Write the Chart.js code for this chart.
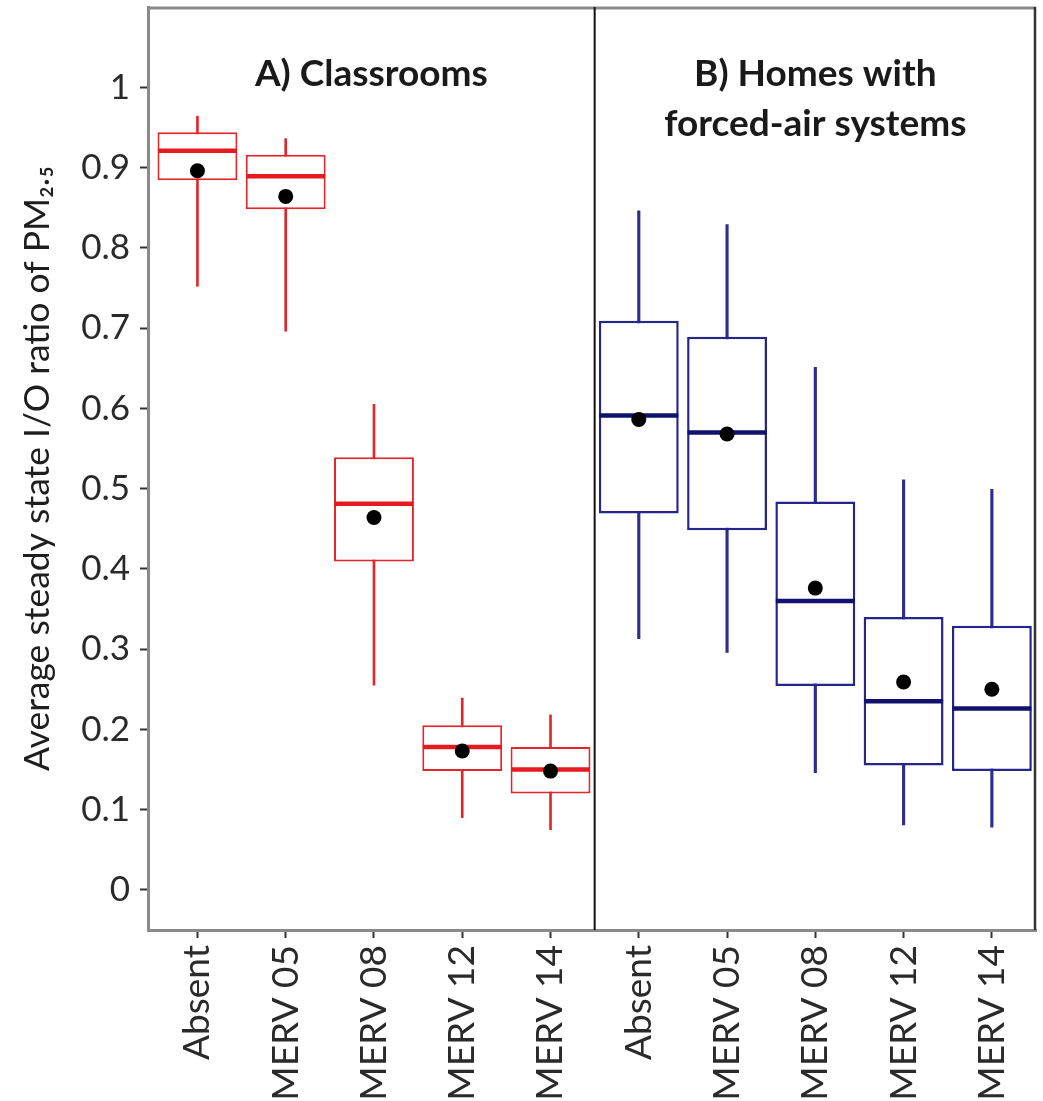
<!DOCTYPE html>
<html>
<head>
<meta charset="utf-8">
<script src="https://cdn.jsdelivr.net/npm/chart.js@4.4.1/dist/chart.umd.min.js"></script>
<style>
  html, body { margin: 0; padding: 0; background: #ffffff; }
  #wrap { width: 1043px; height: 1101px; position: relative; }
</style>
</head>
<body>
<div id="wrap"><canvas id="c" width="1043" height="1101"></canvas></div>
<script>
// ---- Data ----
const categories = ['Absent', 'MERV 05', 'MERV 08', 'MERV 12', 'MERV 14'];
const panelTitles = [['A) Classrooms'], ['B) Homes with', 'forced-air systems']];
const yTickValues = [0, 0.1, 0.2, 0.3, 0.4, 0.5, 0.6, 0.7, 0.8, 0.9, 1];
const yTickLabels = ['0', '0.1', '0.2', '0.3', '0.4', '0.5', '0.6', '0.7', '0.8', '0.9', '1'];

// A) Classrooms
const classWhiskerLow  = [0.752, 0.696, 0.255, 0.090, 0.075];
const classQ1          = [0.884, 0.848, 0.409, 0.148, 0.120];
const classMedian      = [0.921, 0.889, 0.481, 0.178, 0.150];
const classQ3          = [0.944, 0.916, 0.539, 0.205, 0.178];
const classWhiskerHigh = [0.964, 0.936, 0.605, 0.239, 0.218];
const classMean        = [0.896, 0.864, 0.464, 0.173, 0.148];

// B) Homes with forced-air systems
const homesWhiskerLow  = [0.313, 0.296, 0.146, 0.081, 0.078];
const homesQ1          = [0.469, 0.448, 0.254, 0.155, 0.148];
const homesMedian      = [0.591, 0.570, 0.360, 0.235, 0.226];
const homesQ3          = [0.709, 0.689, 0.484, 0.340, 0.329];
const homesWhiskerHigh = [0.846, 0.829, 0.651, 0.511, 0.499];
const homesMean        = [0.586, 0.568, 0.376, 0.259, 0.250];

// ---- Styles ----
const RED = '#e3262b';
const RED_MED = '#e51b1f';
const BLUE = '#26268a';
const BLUE_WHISKER = '#2e2e8e';
const BLUE_MED = '#12126e';
const FONT = 'Lato, "Open Sans", sans-serif';

// category positions on the shared linear x axis: panel A = 1..5, panel B = 6..10
const nCat = categories.length;
const posA = categories.map((_, i) => i + 1);
const posB = categories.map((_, i) => i + 1 + nCat);
const allPos = posA.concat(posB);
const allLabels = categories.concat(categories);
const dividerX = nCat + 0.5;

const range = (pos, lo, hi) => pos.map((x, i) => ({ x: x, y: [lo[i], hi[i]] }));
const pts = (pos, v) => pos.map((x, i) => ({ x: x, y: v[i] }));

const datasets = [
  // whiskers
  { type: 'bar', data: range(posA, classWhiskerLow, classWhiskerHigh), backgroundColor: RED,
    barThickness: 2, grouped: false, order: 5 },
  { type: 'bar', data: range(posB, homesWhiskerLow, homesWhiskerHigh), backgroundColor: BLUE_WHISKER,
    barThickness: 2.5, grouped: false, order: 5 },
  // boxes
  { type: 'bar', data: range(posA, classQ1, classQ3), backgroundColor: '#ffffff', borderColor: RED,
    borderWidth: 2, borderSkipped: false, barPercentage: 0.905, categoryPercentage: 1, grouped: false, order: 4 },
  { type: 'bar', data: range(posB, homesQ1, homesQ3), backgroundColor: '#ffffff', borderColor: BLUE,
    borderWidth: 2.5, borderSkipped: false, barPercentage: 0.905, categoryPercentage: 1, grouped: false, order: 4 },
  // medians
  { type: 'scatter', data: pts(posA, classMedian), pointStyle: 'line', pointRadius: 39.5,
    pointHoverRadius: 39.5, borderColor: RED_MED, pointBorderWidth: 4.5, order: 3 },
  { type: 'scatter', data: pts(posB, homesMedian), pointStyle: 'line', pointRadius: 39.5,
    pointHoverRadius: 39.5, borderColor: BLUE_MED, pointBorderWidth: 4.5, order: 3 },
  // means
  { type: 'scatter', data: pts(posA, classMean), pointStyle: 'circle', pointRadius: 7.5,
    backgroundColor: '#000000', borderColor: '#000000', pointBorderWidth: 0, order: 1 },
  { type: 'scatter', data: pts(posB, homesMean), pointStyle: 'circle', pointRadius: 7.5,
    backgroundColor: '#000000', borderColor: '#000000', pointBorderWidth: 0, order: 1 }
];

const framePlugin = {
  id: 'frame',
  afterDatasetsDraw(chart) {
    const { ctx, chartArea: a, scales } = chart;
    ctx.save();
    // top border
    ctx.strokeStyle = '#8a8a8a';
    ctx.lineWidth = 3;
    ctx.beginPath(); ctx.moveTo(a.left, a.top + 1); ctx.lineTo(a.right, a.top + 1); ctx.stroke();
    // right border
    ctx.strokeStyle = '#333333';
    ctx.lineWidth = 2.5;
    ctx.beginPath(); ctx.moveTo(a.right - 1, a.top); ctx.lineTo(a.right - 1, a.bottom); ctx.stroke();
    // divider
    const dx = scales.x.getPixelForValue(dividerX);
    ctx.strokeStyle = '#111111';
    ctx.lineWidth = 2;
    ctx.beginPath(); ctx.moveTo(dx, a.top); ctx.lineTo(dx, a.bottom); ctx.stroke();
    // panel titles
    ctx.fillStyle = '#1a1a1a';
    ctx.font = 'bold 37px ' + FONT;
    ctx.textAlign = 'center';
    ctx.textBaseline = 'middle';
    const centers = [(a.left + dx) / 2, (dx + a.right) / 2];
    panelTitles.forEach((lines, p) => {
      lines.forEach((t, k) => ctx.fillText(t, centers[p], 74 + k * 50));
    });
    ctx.restore();
  }
};

const noPad = (s) => { s.paddingTop = 0; s.paddingBottom = 0; s.paddingLeft = 0; s.paddingRight = 0; };

new Chart(document.getElementById('c'), {
  type: 'bar',
  data: { datasets: datasets },
  options: {
    responsive: false,
    animation: false,
    events: [],
    layout: { autoPadding: false, padding: { top: 7, right: 7, left: 0, bottom: 0 } },
    plugins: { legend: { display: false }, tooltip: { enabled: false } },
    scales: {
      x: {
        type: 'linear',
        min: 0.44,
        max: 10.5,
        offset: false,
        afterBuildTicks: (s) => { s.ticks = allPos.map(v => ({ value: v })); },
        afterFit: (s) => { s.height = 171; noPad(s); },
        ticks: {
          autoSkip: false,
          minRotation: 90,
          maxRotation: 90,
          padding: 7,
          color: '#2a2a2a',
          font: { family: FONT, size: 37 },
          callback: (v, i) => allLabels[i]
        },
        grid: { offset: false, drawOnChartArea: false, drawTicks: true, tickLength: 8, tickColor: '#333333', tickWidth: 2 },
        border: { display: true, color: '#8a8a8a', width: 3 }
      },
      y: {
        type: 'linear',
        min: -0.05,
        max: 1.1,
        afterBuildTicks: (s) => { s.ticks = yTickValues.map(v => ({ value: v })); },
        afterFit: (s) => { s.width = 148; noPad(s); },
        ticks: {
          padding: 10,
          color: '#2a2a2a',
          font: { family: FONT, size: 35 },
          callback: (v, i) => yTickLabels[i]
        },
        grid: { offset: false, drawOnChartArea: false, drawTicks: true, tickLength: 8, tickColor: '#333333', tickWidth: 2 },
        border: { display: true, color: '#8a8a8a', width: 3 },
        title: {
          display: true,
          text: 'Average steady state I/O ratio of PM₂.₅',
          color: '#1e1e1e',
          font: { family: FONT, size: 35.5 },
          padding: { top: 16, bottom: 0 }
        }
      }
    }
  },
  plugins: [framePlugin]
});
</script>
</body>
</html>
